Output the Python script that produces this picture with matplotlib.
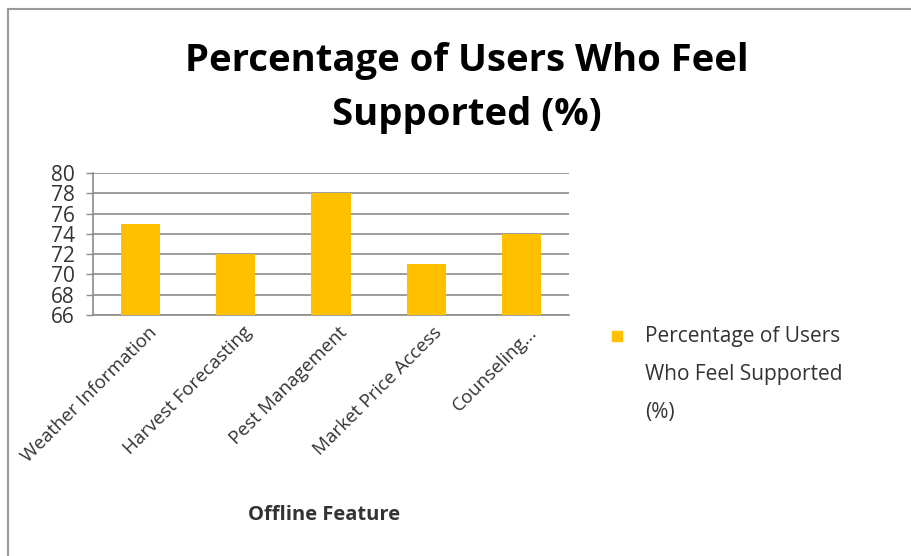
import matplotlib.pyplot as plt
from matplotlib.patches import Rectangle
from matplotlib.transforms import ScaledTranslation

features = ["Weather Information", "Harvest Forecasting", "Pest Management",
            "Market Price Access", "Counseling..."]
supported = [75, 72, 78, 71, 74]
series_name = "Percentage of Users\nWho Feel Supported\n(%)"
title = "Percentage of Users Who Feel\nSupported (%)"
y_ticks = [66, 68, 70, 72, 74, 76, 78, 80]

bar_color = "#FFC000"
grid_color = "#8c8c8c"
text_color = "#333333"

plt.rcParams["font.family"] = ["Open Sans", "DejaVu Sans"]

fig = plt.figure(figsize=(9.12, 5.56), dpi=100)
ax = fig.add_axes([93 / 912, 1 - 315 / 556, 476 / 912, 142 / 556])

x = range(len(features))
ax.bar(x, supported, width=0.41, color=bar_color, zorder=3)

ax.set_xlim(-0.5, len(features) - 0.5)
ax.set_ylim(66, 80)
ax.tick_params(axis="x", length=0, pad=6)
ax.tick_params(axis="y", length=5, width=1, color=grid_color, pad=8)
ax.set_yticks(y_ticks)
ax.set_yticklabels([str(v) for v in y_ticks], fontsize=15, color=text_color)
ax.set_xticks(list(x))
ax.set_xticklabels(features, rotation=45, ha="right", va="top",
                   rotation_mode="anchor", fontsize=13.5, color=text_color)
# nudge the rotated labels right so their ends sit near the bar centres
shift = ScaledTranslation(5 / 72, 0, fig.dpi_scale_trans)
for lbl in ax.get_xticklabels():
    lbl.set_transform(lbl.get_transform() + shift)

ax.grid(axis="y", color=grid_color, linewidth=1.2, zorder=0)
for side in ["top", "right"]:
    ax.spines[side].set_visible(False)
for side in ["left", "bottom"]:
    ax.spines[side].set_color(grid_color)
    ax.spines[side].set_linewidth(1.2)

ax.set_xlabel("Offline Feature", fontsize=14.5, fontweight="bold",
              color=text_color)
ax.xaxis.set_label_coords(0.485, -1.34)

fig.text(467 / 912, 1 - 88 / 556, title, ha="center", va="center",
         fontsize=27.5, fontweight="bold", color="black", linespacing=1.55)

# legend
fig.add_artist(Rectangle((612 / 912, 1 - 341 / 556), 10 / 912, 10 / 556,
                         transform=fig.transFigure, color=bar_color))
fig.text(645 / 912, 1 - 326 / 556, series_name, ha="left", va="top",
         fontsize=15, color=text_color, linespacing=2.05)

# chart border
fig.add_artist(Rectangle((8 / 912, -0.05), 1.1, 1 - 9 / 556 + 0.05,
                         transform=fig.transFigure, fill=False,
                         edgecolor="#9a9a9a", linewidth=1.5))

fig.savefig("out.png", dpi=100)
